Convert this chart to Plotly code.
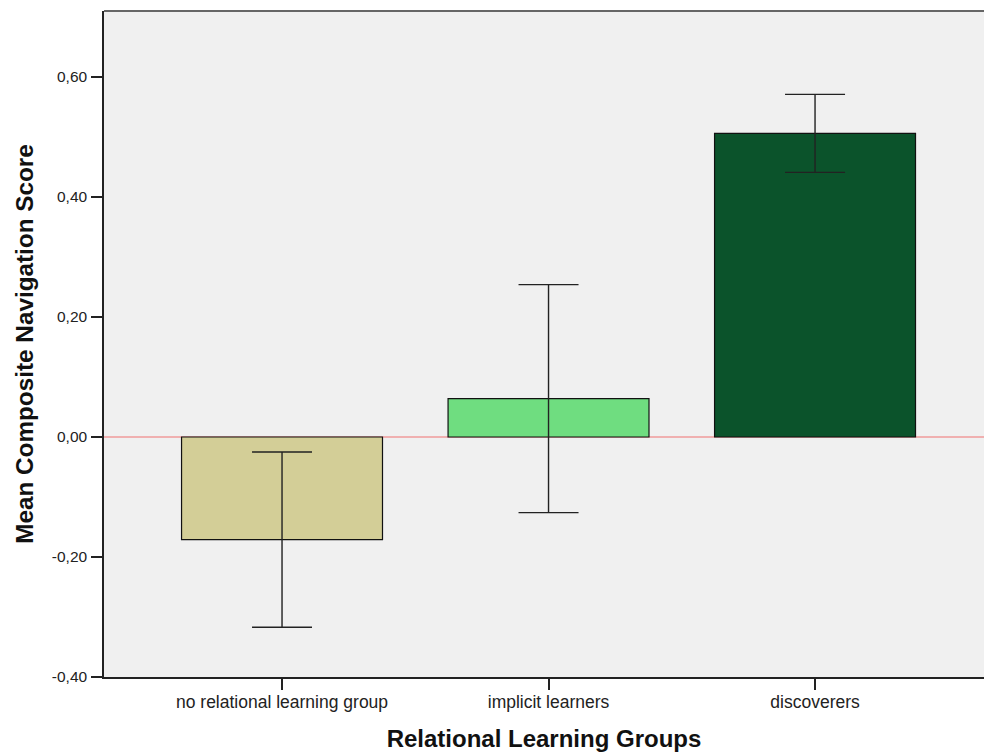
import plotly.graph_objects as go

categories = ["no relational learning group", "implicit learners", "discoverers"]
means = [-0.171, 0.064, 0.506]
err = [0.146, 0.190, 0.065]
colors = ["#D3CE97", "#6FDD80", "#0B532B"]
ytickvals = [-0.4, -0.2, 0.0, 0.2, 0.4, 0.6]
yticktext = ["-0,40", "-0,20", "0,00", "0,20", "0,40", "0,60"]

fig = go.Figure()
fig.add_trace(go.Bar(
    x=list(range(len(categories))), y=means,
    marker=dict(color=colors, line=dict(color="#111111", width=1.2)),
    width=0.754,
    error_y=dict(type="data", array=err, visible=True, color="#222222", thickness=1.4, width=30),
    showlegend=False,
))

font = "Liberation Sans, Arial, sans-serif"
fig.update_layout(
    width=984, height=753,
    margin=dict(l=104, r=0, t=11, b=76),
    paper_bgcolor="white", plot_bgcolor="#F0F0F0",
    font=dict(family=font, size=16, color="#222222"),
    bargap=0.2,
)
fig.update_xaxes(
    range=[-0.668, 2.634],
    tickvals=list(range(len(categories))), ticktext=categories,
    ticks="outside", ticklen=11, tickwidth=1.5, tickcolor="#222222",
    showline=True, linecolor="#222222", linewidth=1.5,
    showgrid=False, zeroline=False,
    tickfont=dict(size=17.5, family=font, color="#222222"),
    ticklabelstandoff=-3,
    title=dict(text="<b>Relational Learning Groups</b>", font=dict(size=24, family=font, color="#111111"), standoff=19),
)
fig.update_yaxes(
    range=[-0.4, 0.71],
    tickvals=ytickvals, ticktext=yticktext,
    ticks="outside", ticklen=11, tickwidth=1.5, tickcolor="#222222",
    showline=True, linecolor="#222222", linewidth=1.5,
    showgrid=False, zeroline=False,
    tickfont=dict(size=15.5, family=font, color="#222222"),
    ticklabelstandoff=1,
    title=dict(text="<b>Mean Composite Navigation Score</b>", font=dict(size=24.3, family=font, color="#111111"), standoff=11),
)
fig.add_shape(type="line", xref="paper", yref="y", x0=0, x1=1, y0=0, y1=0,
              line=dict(color="#F07070", width=1), layer="below")
fig.add_shape(type="line", xref="paper", yref="paper", x0=0, x1=1, y0=1, y1=1,
              line=dict(color="#666666", width=2))

fig.write_html("out.html")
